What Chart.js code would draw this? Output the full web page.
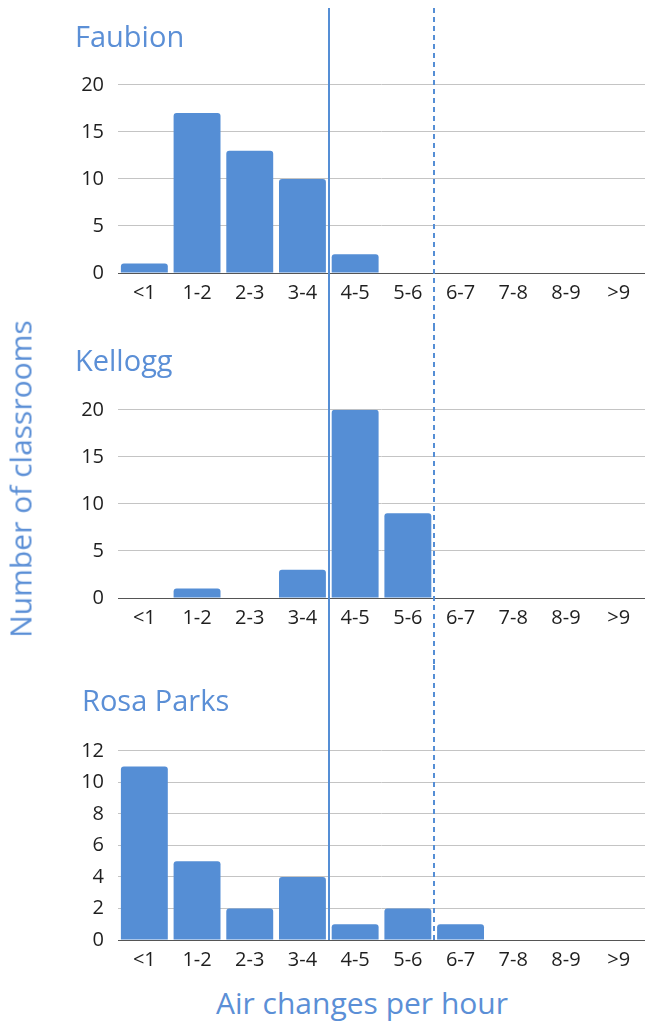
<!DOCTYPE html>
<html>
<head>
<meta charset="utf-8">
<script src="https://cdn.jsdelivr.net/npm/chart.js@4/dist/chart.umd.min.js"></script>
<style>
  body { margin: 0; background: #fff; width: 645px; height: 1021px; position: relative; overflow: hidden; }
  canvas { position: absolute; left: 0; }
  .axis-title { position: absolute; font-family: "Open Sans", sans-serif; font-size: 30px; color: #5b8fd6; white-space: nowrap; }
  #yTitle { left: 20px; top: 479px; transform: translate(-50%, -50%) rotate(-90deg); }
  #xTitle { left: 362px; top: 1002px; transform: translate(-50%, -50%); }
</style>
</head>
<body>
<canvas id="faubion" width="645" height="326" style="top:0"></canvas>
<canvas id="kellogg" width="645" height="339" style="top:326px"></canvas>
<canvas id="rosaParks" width="645" height="312" style="top:665px"></canvas>
<div class="axis-title" id="yTitle">Number of classrooms</div>
<div class="axis-title" id="xTitle">Air changes per hour</div>
<script>
// air changes per hour bins
const categories = ["<1", "1-2", "2-3", "3-4", "4-5", "5-6", "6-7", "7-8", "8-9", ">9"];
const faubionCounts = [1, 17, 13, 10, 2, 0, 0, 0, 0, 0];
const kelloggCounts = [0, 1, 0, 3, 20, 9, 0, 0, 0, 0];
const rosaParksCounts = [11, 5, 2, 4, 1, 2, 1, 0, 0, 0];
// guide lines sit between 3-4 | 4-5 and 5-6 | 6-7
const guideBoundaries = [3.5, 5.5];

const BLUE = "#558ed5";
const TEXT_BLUE = "#5b8fd6";

const guideLines = {
  id: "guideLines",
  afterDatasetsDraw(chart, args, opts) {
    const ctx = chart.ctx;
    const xScale = chart.scales.x;
    const top = opts.top || 0;
    const bottom = opts.toAxis ? chart.chartArea.bottom : chart.height;
    ctx.save();
    ctx.strokeStyle = BLUE;
    ctx.lineWidth = 2;
    guideBoundaries.forEach((b, i) => {
      const px = Math.round(xScale.getPixelForValue(b));
      ctx.setLineDash(i === 0 ? [] : [5, 4]);
      ctx.beginPath();
      ctx.moveTo(px, top);
      ctx.lineTo(px, bottom);
      ctx.stroke();
    });
    ctx.restore();
  }
};

function makeChart(id, name, counts, yMax, yStep, pad, titleGap, guides) {
  return new Chart(document.getElementById(id), {
    type: "bar",
    data: {
      labels: categories,
      datasets: [{
        data: counts,
        backgroundColor: BLUE,
        borderRadius: 3,
        borderSkipped: "bottom",
        barPercentage: 0.89,
        categoryPercentage: 1
      }]
    },
    options: {
      responsive: false,
      animation: false,
      layout: { padding: pad },
      plugins: {
        legend: { display: false },
        tooltip: { enabled: false },
        title: {
          display: true,
          text: name,
          align: "start",
          color: TEXT_BLUE,
          font: { family: "Open Sans, sans-serif", size: 29, weight: "normal" },
          padding: { top: 0, bottom: titleGap }
        },
        guideLines: guides
      },
      scales: {
        x: {
          grid: { display: false, drawTicks: false },
          border: { color: "#555", width: 1 },
          ticks: { color: "#1f1f1f", font: { family: "Open Sans, sans-serif", size: 20 }, padding: 8, maxRotation: 0 }
        },
        y: {
          min: 0,
          max: yMax,
          ticks: { stepSize: yStep, color: "#1f1f1f", font: { family: "Open Sans, sans-serif", size: 20 }, padding: 14 },
          grid: { drawTicks: false, color: c => (c.tick && c.tick.value === 0 ? "#555" : "#c4c4c4") },
          border: { display: false },
          afterFit(scale) { scale.width = 118 - pad.left; }
        }
      }
    },
    plugins: [guideLines]
  });
}

makeChart("faubion", "Faubion", faubionCounts, 20, 5,
  { top: 21, bottom: 13, left: 75, right: 0 }, 29, { top: 8 });
makeChart("kellogg", "Kellogg", kelloggCounts, 20, 5,
  { top: 19, bottom: 27, left: 75, right: 0 }, 30, { top: 0 });
makeChart("rosaParks", "Rosa Parks", rosaParksCounts, 12, 2,
  { top: 20, bottom: -3, left: 82, right: 0 }, 31, { top: 0, toAxis: true });
</script>
</body>
</html>
